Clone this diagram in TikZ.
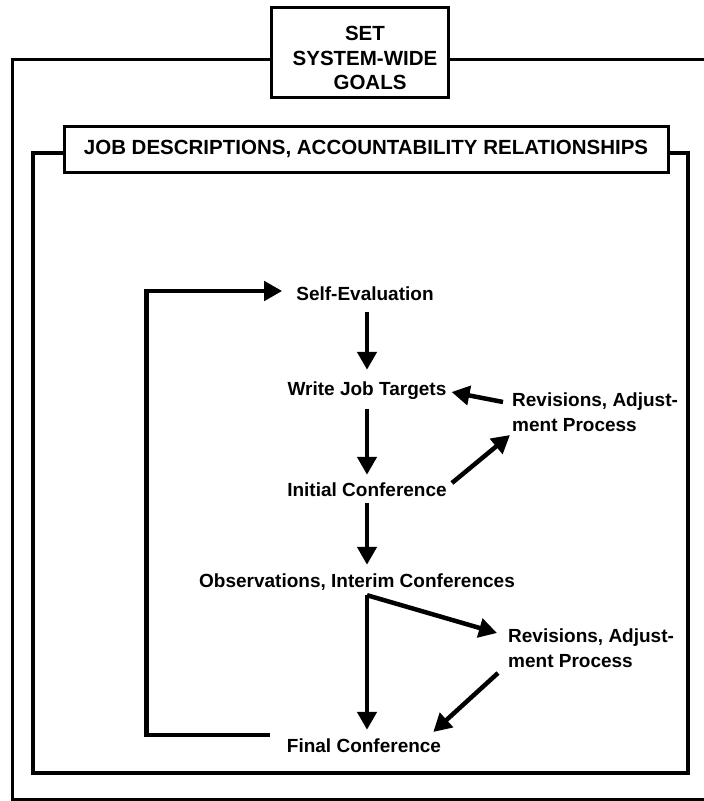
\documentclass[tikz,border=0pt]{standalone}
\usepackage{fontspec}
\setmainfont{Liberation Sans}
\usetikzlibrary{arrows.meta}
\tikzset{
  captext/.style={font=\bfseries\fontsize{20.5}{24.5}\selectfont,inner sep=0pt},
  stepname/.style={font=\bfseries\fontsize{19}{23}\selectfont,inner sep=0pt,text height=14pt,text depth=4pt},
  revname/.style={font=\bfseries\fontsize{19}{25}\selectfont,inner sep=0pt,align=left,anchor=west},
  box/.style={draw,line width=3pt,inner sep=0pt},
  frame/.style={line width=3.5pt},
  flow/.style={line width=4.5pt,-{Triangle[length=18pt,width=19pt]}}
}
\begin{document}
\begin{tikzpicture}[x=1pt,y=-1pt]
\useasboundingbox (0,0) rectangle (704,801);
\pgfmathsetmacro{\ol}{12}
\pgfmathsetmacro{\ob}{799}
\pgfmathsetmacro{\il}{33}
\pgfmathsetmacro{\ir}{688}
\pgfmathsetmacro{\ib}{773}
\coordinate (otop) at (0,59);
\coordinate (itop) at (0,153);
%goals
\node[box,minimum width=177pt,minimum height=90pt] (goals) at (359.5,52) {};
\node[captext,align=center] (goalstext) at (365,58) {SET\\SYSTEM-WIDE\\\hspace*{10pt}GOALS};
\draw[frame,line width=3pt](goals.west |- otop)--(\ol,59)--(\ol,\ob)--(730,\ob)--(730,59)--(goals.east |- otop);
%jobs
\node[box,captext,minimum width=604pt,minimum height=46pt] (jobs) at (366,149) {JOB DESCRIPTIONS, ACCOUNTABILITY RELATIONSHIPS};
\draw[frame,line width=4pt](jobs.west |- itop)--(\il,153)--(\il,\ib)--(\ir,\ib)--(\ir,153)--(jobs.east |- itop);
%steps
\node[stepname] (se) at (365,295) {Self-Evaluation};
\node[stepname] (wjt) at (367,390) {Write Job Targets};
\node[stepname] (ic) at (367,491) {Initial Conference};
\node[stepname] (obs) at (357,582) {Observations, Interim Conferences};
\node[stepname] (fin) at (364,747) {Final Conference};
\node[revname] (revA) at (512,412.5) {Revisions, Adjust-\\ment Process};
\node[revname] (revB) at (508,648.5) {Revisions, Adjust-\\ment Process};
%arrows
\draw[flow,shorten <=8pt,shorten >=11pt](se.south -| wjt.north)--(wjt.north);
\draw[flow,shorten <=10pt,shorten >=7pt](wjt.south)--(ic.north);
\draw[flow,shorten <=3pt,shorten >=8pt](ic.south)--(ic.south |- obs.north);
\draw[flow]([xshift=-9pt,yshift=10.5pt]revA.west)--([xshift=5pt,yshift=-2pt]wjt.east);
\draw[flow]([xshift=5pt,yshift=8pt]ic.east)--([xshift=-2pt,yshift=-22.5pt]revA.west);
\coordinate (fork) at ([xshift=10pt,yshift=-4pt]obs.south);
\draw[flow,shorten >=8pt](fork)--(fork |- fin.north);
\draw[flow](fork)--([xshift=-11pt,yshift=15.5pt]revB.west);
\draw[flow]([xshift=-10pt,yshift=-24.5pt]revB.west)--([xshift=-8pt,yshift=15pt]fin.east);
%loop back
\draw[flow]([xshift=-17pt,yshift=12pt]fin.west)--++(-123,0)|-([xshift=-14pt,yshift=4pt]se.west);
\end{tikzpicture}
\end{document}
